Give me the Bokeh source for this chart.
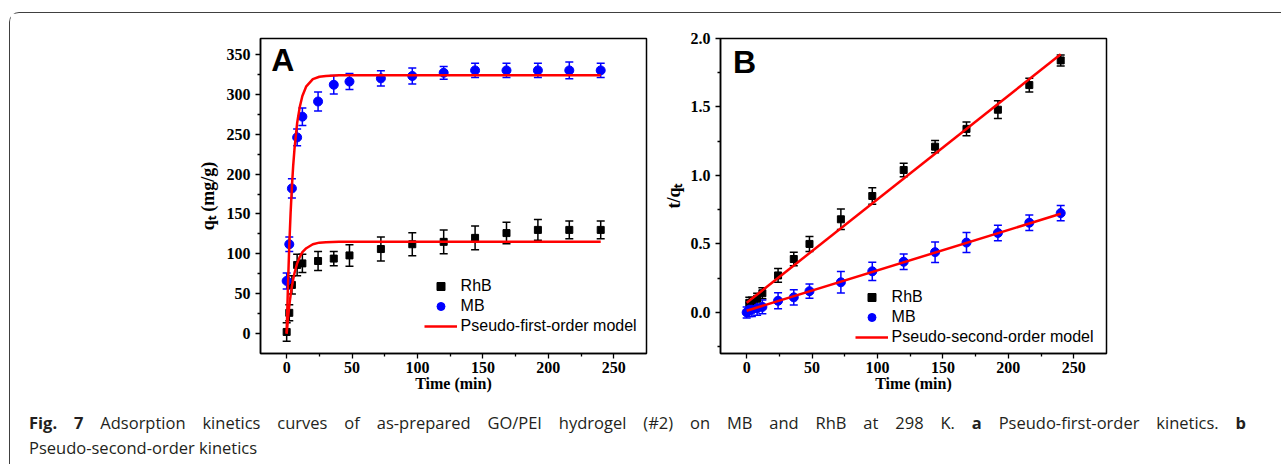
from bokeh.plotting import figure
from bokeh.models import (ColumnDataSource, Whisker, TeeHead, Label, Legend, LegendItem,
                          Range1d, FixedTicker, NumeralTickFormatter, Div)
from bokeh.layouts import row, column
from bokeh.embed import file_html
from bokeh.resources import INLINE

# ---------------- data ----------------
times = [0, 2, 4, 8, 12, 24, 36, 48, 72, 96, 120, 144, 168, 192, 216, 240]

# Panel A: q_t (mg/g)
rhb_q = [2, 26, 61, 86, 88, 91, 94, 98, 106, 112, 115, 120, 126, 130, 130, 130]
rhb_q_err = [11.5, 10, 11.5, 13.5, 11.5, 12, 9, 13.5, 15, 14.5, 15, 15, 13.5, 13, 11, 11]
mb_q = [66, 112, 182, 246, 272, 291, 312, 316, 320, 323, 327, 330, 330, 330, 330, 330]
mb_q_err = [10, 9, 12, 10.5, 11, 12, 11.5, 10, 9.5, 10, 8, 9, 9, 9, 10.5, 9]

fit1_t = [0, 1, 2, 3, 4, 5, 6, 8, 10, 12, 15, 20, 25, 30, 40, 60, 240]
fit1_mb = [0, 61, 111, 151, 184, 211, 232, 264, 284, 298, 310, 319, 322, 323, 324, 324, 324]
fit1_rhb = [0, 19, 35, 48, 59, 68, 76, 88, 96, 102, 107, 112, 114, 114.5, 115, 115, 115]

# Panel B: t/q_t
rhb_times_b = [2, 4, 8, 12, 24, 36, 48, 72, 96, 120, 144, 168, 192, 216, 240]
rhb_tq = [0.07, 0.07, 0.10, 0.14, 0.27, 0.39, 0.50, 0.68, 0.85, 1.04, 1.21, 1.34, 1.48, 1.66, 1.84]
rhb_tq_err = [0.04, 0.04, 0.04, 0.04, 0.05, 0.05, 0.055, 0.075, 0.06, 0.05, 0.045, 0.05, 0.065, 0.05, 0.04]
mb_tq = [0.0, 0.02, 0.02, 0.03, 0.04, 0.085, 0.11, 0.155, 0.22, 0.30, 0.37, 0.44, 0.51, 0.58, 0.655, 0.725]
mb_tq_err = [0.04, 0.05, 0.05, 0.05, 0.05, 0.058, 0.055, 0.052, 0.078, 0.067, 0.057, 0.075, 0.073, 0.057, 0.057, 0.055]

fit2_t = [0, 240]
fit2_rhb = [0.07, 1.885]
fit2_mb = [0.012, 0.72]

x_major = [0, 50, 100, 150, 200, 250]
x_minor = [25, 75, 125, 175, 225]
ya_major = [0, 50, 100, 150, 200, 250, 300, 350]
ya_minor = [25, 75, 125, 175, 225, 275, 325]
yb_major = [0.0, 0.5, 1.0, 1.5, 2.0]
yb_minor = [-0.25, 0.25, 0.75, 1.25, 1.75]

SERIF = "Liberation Serif"
SANS = "Liberation Sans"
RED = "#ff0000"
BLUE = "#0000ff"


def style(p, yticks, yminor, ylabel):
    p.outline_line_color = "black"
    p.outline_line_width = 1.5
    p.xgrid.visible = False
    p.ygrid.visible = False
    p.xaxis.ticker = FixedTicker(ticks=x_major, minor_ticks=x_minor)
    p.yaxis.ticker = FixedTicker(ticks=yticks, minor_ticks=yminor)
    ax = p.axis
    ax.axis_line_width = 1.5
    ax.axis_line_color = "black"
    ax.major_tick_out = 5
    ax.major_tick_in = 0
    ax.minor_tick_out = 3
    ax.minor_tick_in = 0
    ax.major_tick_line_width = 1.3
    ax.minor_tick_line_width = 1.3
    ax.major_label_text_font = SERIF
    ax.major_label_text_font_style = "bold"
    ax.major_label_text_font_size = "16px"
    ax.major_label_text_color = "black"
    ax.axis_label_text_font = SERIF
    ax.axis_label_text_font_style = "bold"
    ax.axis_label_text_color = "black"
    p.xaxis.major_label_standoff = 3
    p.yaxis.major_label_standoff = 5
    p.xaxis.axis_label = "Time (min)"
    p.xaxis.axis_label_text_font_size = "16px"
    p.xaxis.axis_label_standoff = -1
    p.yaxis.axis_label = ylabel
    p.yaxis.axis_label_text_font_size = "18px"
    p.yaxis.axis_label_standoff = 6


def errbars(p, src, color):
    w = Whisker(source=src, base="t", upper="hi", lower="lo", dimension="height",
                line_color=color, line_width=1.5,
                upper_head=TeeHead(size=8, line_color=color, line_width=1.5),
                lower_head=TeeHead(size=8, line_color=color, line_width=1.5))
    p.add_layout(w)


def legend(p, items, loc):
    lg = Legend(items=items, location=loc, padding=0, margin=0, spacing=0,
                glyph_width=33, glyph_height=20, label_height=20, label_standoff=4,
                label_text_font=SANS, label_text_font_size="16px",
                label_text_color="black", border_line_color=None,
                background_fill_alpha=0)
    p.add_layout(lg)


# ---------------- Panel A ----------------
pA = figure(frame_width=386, frame_height=315, x_range=Range1d(-20, 275), y_range=Range1d(-25, 370),
            output_backend="svg", toolbar_location=None,
            min_border_left=250, min_border_right=14, min_border_top=25, min_border_bottom=30)
style(pA, ya_major, ya_minor, "q\u209c (mg/g)")

srcA_r = ColumnDataSource(dict(t=times, y=rhb_q,
                               lo=[v - e for v, e in zip(rhb_q, rhb_q_err)],
                               hi=[v + e for v, e in zip(rhb_q, rhb_q_err)]))
srcA_m = ColumnDataSource(dict(t=times, y=mb_q,
                               lo=[v - e for v, e in zip(mb_q, mb_q_err)],
                               hi=[v + e for v, e in zip(mb_q, mb_q_err)]))
errbars(pA, srcA_r, "black")
errbars(pA, srcA_m, BLUE)
rA = pA.scatter("t", "y", source=srcA_r, marker="square", size=7, color="black")
mA = pA.scatter("t", "y", source=srcA_m, marker="circle", size=9, color=BLUE)
lA = pA.line(fit1_t, fit1_mb, line_color=RED, line_width=2.5)
pA.line(fit1_t, fit1_rhb, line_color=RED, line_width=2.5)
legend(pA, [LegendItem(label="RhB", renderers=[rA]),
            LegendItem(label="MB", renderers=[mA]),
            LegendItem(label="Pseudo-first-order model", renderers=[lA])], (163.6, 17.4))

pA.add_layout(Label(x=-11.8, y=343, text="A", text_font=SANS, text_font_style="bold",
                    text_font_size="32px", text_color="black", text_baseline="alphabetic"))

# ---------------- Panel B ----------------
pB = figure(frame_width=386, frame_height=315, x_range=Range1d(-20, 275), y_range=Range1d(-0.3, 2.0),
            output_backend="svg", toolbar_location=None,
            min_border_left=58, min_border_right=60, min_border_top=23, min_border_bottom=32)
style(pB, yb_major, yb_minor, "t/q\u209c")
pB.yaxis.axis_label_standoff = 4
pB.yaxis.formatter = NumeralTickFormatter(format="0.0")

srcB_r = ColumnDataSource(dict(t=rhb_times_b, y=rhb_tq,
                               lo=[v - e for v, e in zip(rhb_tq, rhb_tq_err)],
                               hi=[v + e for v, e in zip(rhb_tq, rhb_tq_err)]))
srcB_m = ColumnDataSource(dict(t=times, y=mb_tq,
                               lo=[v - e for v, e in zip(mb_tq, mb_tq_err)],
                               hi=[v + e for v, e in zip(mb_tq, mb_tq_err)]))
errbars(pB, srcB_r, "black")
errbars(pB, srcB_m, BLUE)
rB = pB.scatter("t", "y", source=srcB_r, marker="square", size=7, color="black")
mB = pB.scatter("t", "y", source=srcB_m, marker="circle", size=9, color=BLUE)
lB = pB.line(fit2_t, fit2_rhb, line_color=RED, line_width=2.5)
pB.line(fit2_t, fit2_mb, line_color=RED, line_width=2.5)
legend(pB, [LegendItem(label="RhB", renderers=[rB]),
            LegendItem(label="MB", renderers=[mB]),
            LegendItem(label="Pseudo-second-order model", renderers=[lB])], (134.6, 6.4))

pB.add_layout(Label(x=-10.4, y=1.83, text="B", text_font=SANS, text_font_style="bold",
                    text_font_size="32px", text_color="black", text_baseline="alphabetic"))

# ---------------- caption ----------------
cap_html = ('<div style="width:1217px;text-align:justify;text-align-last:justify;white-space:normal">'
            '<b>Fig. 7</b> Adsorption kinetics curves '
            'of as-prepared GO/PEI hydrogel (#2) on MB and RhB at 298 K. <b>a</b> Pseudo-first-order kinetics. '
            '<b>b</b></div><div style="width:1217px">Pseudo-second-order kinetics</div>')
cap = Div(text=cap_html, width=1270, height=60,
          styles={"font-family": "Open Sans", "font-size": "16.5px", "line-height": "25px",
                  "color": "#231f20", "padding-left": "14px", "padding-right": "39px",
                  "padding-top": "11px", "box-sizing": "border-box"})

lay = column(row(pA, pB), cap, margin=(12, 0, 0, 9),
             styles={"border-top": "1.5px solid #404040", "border-left": "1.5px solid #404040",
                     "border-top-left-radius": "10px"})

open("out.html", "w").write(file_html(lay, INLINE))
